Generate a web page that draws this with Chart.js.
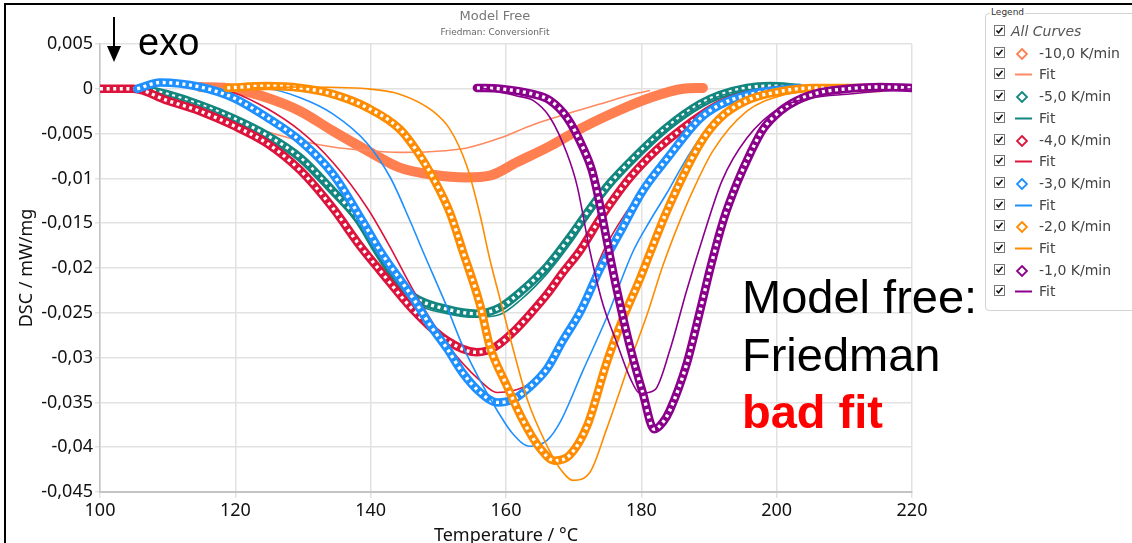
<!DOCTYPE html>
<html>
<head>
<meta charset="utf-8">
<script src="https://cdn.jsdelivr.net/npm/chart.js@4.4.1/dist/chart.umd.min.js"></script>
<style>
  body { margin: 0; background: #fff; }
  #wrap { position: relative; width: 1132px; height: 543px; overflow: hidden; background: #fff; }
  #frame { position: absolute; left: 4px; top: 3px; width: 1200px; height: 700px;
           border-left: 2px solid #000; border-top: 2px solid #000; }
  .ttl { position: absolute; left: 395px; width: 200px; text-align: center; font-family: "DejaVu Sans"; }
  #legend { position: absolute; left: 985px; top: 13px; width: 170px; height: 296px;
            border: 1px solid #d2d2d2; border-radius: 4px; font-family: "DejaVu Sans"; }
  #legend .lt { position: absolute; left: 4px; top: -7px; background: #fff; font-size: 9px; color: #333; padding: 0 1px; }
  #legend .row { position: absolute; left: 0; height: 16px; width: 170px; }
  #legend .row span { position: absolute; top: 0; font-size: 14px; line-height: 16px; color: #444; white-space: nowrap; }
  .note { position: absolute; font-family: "Liberation Sans", Arial, sans-serif; color: #000; }
</style>
</head>
<body>
<div id="wrap">
  <canvas id="chart" width="1132" height="543"></canvas>
  <div id="frame"></div>
  <div class="ttl" style="top:8px;font-size:13px;color:#777">Model Free</div>
  <div class="ttl" style="top:27px;font-size:9px;color:#666">Friedman: ConversionFit</div>
  <svg style="position:absolute;left:105px;top:17px" width="18" height="48">
    <line x1="9" y1="0" x2="9" y2="32" stroke="#000" stroke-width="2"/>
    <polygon points="2,29 16,29 9,45" fill="#000"/>
  </svg>
  <div class="note" style="left:138px;top:23px;font-size:38px;line-height:38px">exo</div>
  <div class="note" style="left:742px;top:268px;font-size:47px;line-height:57.5px">Model free:<br>Friedman<br><b style="color:#ff0000">bad fit</b></div>
  <div id="legend"><span class="lt">Legend</span></div>
</div>
<script>
// temperatures (°C) and DSC values (mW/mg)
const tD10 = [114.8,119.7,124.7,129.6,134.4,139.5,144.3,149.2,154.2,157.6,161.6,166.5,171.4,176.4,181.3,186.2,189.1];
const vD10 = [0.0002,0,-0.001,-0.0025,-0.0047,-0.0069,-0.0088,-0.0096,-0.0099,-0.0097,-0.0082,-0.0064,-0.0043,-0.0025,-0.001,0,0.0001];
const tF10 = [114.8,119.7,124.7,129.6,134.4,139.5,144.3,149.2,154.2,159.1,164.0,169.0,173.9,178.8,181.3];
const vF10 = [-0.0027,-0.0037,-0.0048,-0.0058,-0.0065,-0.0069,-0.0071,-0.0070,-0.0066,-0.0055,-0.0040,-0.0028,-0.0017,-0.0006,-0.0002];

const tD5 = [105.9,109.9,114.8,119.7,124.7,129.6,134.4,138.0,141.4,143.9,146.3,151.3,155.7,159.1,162.1,166.1,169.5,172.5,175.4,178.8,183.8,188.7,191.6,195.6,199.0,203.4];
const vD5 = [0.0001,-0.0006,-0.0018,-0.0033,-0.0052,-0.0077,-0.0114,-0.0144,-0.0186,-0.0214,-0.0232,-0.0246,-0.0251,-0.0244,-0.0227,-0.0198,-0.0165,-0.0133,-0.0105,-0.0078,-0.0043,-0.0017,-0.0007,0.0001,0.0003,0.0001];
const tF5 = [105.9,114.8,119.7,124.7,129.6,134.4,138.0,141.4,146.3,151.3,155.7,159.1,162.1,166.1,169.5,172.5,175.4,178.8,183.8,188.7,191.6,195.6,200.5,203.4];
const vF5 = [0.0001,-0.0019,-0.0035,-0.0055,-0.0080,-0.0117,-0.0150,-0.0190,-0.0237,-0.0251,-0.0255,-0.0252,-0.0236,-0.0206,-0.0173,-0.0140,-0.0110,-0.0081,-0.0045,-0.0018,-0.0008,-0.0001,0,0];

const tD4 = [100,104.9,109.9,114.8,119.7,124.7,129.6,134.4,138.4,141.4,146.3,151.3,155.7,158.4,161.0,163.5,166.1,168.4,170.9,173.9,177.9,181.3,183.8,188.7,191.6,196.1,200.5];
const vD4 = [0,0,-0.0013,-0.0025,-0.0041,-0.0061,-0.0091,-0.0133,-0.0175,-0.0203,-0.0247,-0.0281,-0.0294,-0.0288,-0.0272,-0.0252,-0.0229,-0.0205,-0.0181,-0.0145,-0.0103,-0.0075,-0.0058,-0.0030,-0.0017,-0.0006,-0.0001];
const tF4 = [117.3,119.7,124.7,129.6,134.4,139.5,142.9,146.3,151.3,156.2,158.7,161.0,163.5,166.1,168.4,170.9,174.6,180.2,183.8,188.7,195.6,200.5];
const vF4 = [0,-0.0004,-0.0022,-0.0047,-0.0082,-0.0133,-0.0177,-0.0225,-0.0285,-0.0326,-0.0339,-0.0337,-0.0329,-0.0309,-0.0278,-0.0245,-0.0178,-0.0111,-0.0075,-0.0031,-0.0008,-0.0001];

const tD3 = [105.5,108.9,114.8,119.7,124.7,129.6,134.4,138.9,141.4,146.3,148.8,151.3,153.6,156.2,158.7,161.0,163.5,166.1,168.4,170.9,173.9,176.8,180.2,183.8,188.7,191.6,195.6,200.5,203.4];
const vD3 = [0,0.0007,0.0002,-0.0010,-0.0032,-0.0058,-0.0095,-0.0149,-0.0181,-0.0234,-0.0264,-0.0290,-0.0317,-0.0339,-0.0350,-0.0347,-0.0333,-0.0312,-0.0281,-0.0250,-0.0201,-0.0161,-0.0114,-0.0078,-0.0033,-0.0018,-0.0007,-0.0001,0.0001];
const tF3 = [118.8,124.7,129.6,134.4,139.5,142.9,145.8,147.7,151.3,153.6,156.2,158.7,161.0,163.5,166.1,168.0,171.4,174.9,178.8,181.3,183.8,186.2,188.7,191.6,195.6,200.5,205.4];
const vF3 = [0.0001,0,-0.0010,-0.0028,-0.0061,-0.0099,-0.0147,-0.0181,-0.0244,-0.0287,-0.0326,-0.0359,-0.0385,-0.0399,-0.0392,-0.0372,-0.0314,-0.0255,-0.0181,-0.0147,-0.0116,-0.0084,-0.0055,-0.0030,-0.0012,-0.0004,-0.0001];

const tD2 = [118.8,124.7,129.6,134.4,139.5,144.3,146.8,149.2,151.7,153.6,156.2,157.6,160.1,162.5,165.0,167.2,169.4,172.0,174.9,177.3,179.8,181.3,183.8,188.7,191.6,195.6,200.5,205.4,215.3];
const vD2 = [0.0001,0.0003,0.0001,-0.0006,-0.0021,-0.0045,-0.0069,-0.0099,-0.0138,-0.0181,-0.0242,-0.0287,-0.0331,-0.0370,-0.0401,-0.0415,-0.0409,-0.0376,-0.0305,-0.0256,-0.0212,-0.0183,-0.0136,-0.0061,-0.0033,-0.0013,-0.0003,0.0001,0.0001];
const tF2 = [122.2,129.6,139.5,144.3,149.2,151.7,154.2,156.2,157.6,159.1,161.0,163.2,166.1,168.0,169.9,172.4,174.9,178.3,180.8,183.2,185.4,187.6,190.6,195.6,200.5,210.4];
const vF2 = [0.0001,0.0002,0,-0.0006,-0.0025,-0.0045,-0.0086,-0.0142,-0.0190,-0.0234,-0.0289,-0.0348,-0.0399,-0.0424,-0.0437,-0.0428,-0.0379,-0.0305,-0.0253,-0.0197,-0.0153,-0.0114,-0.0069,-0.0025,-0.0008,0];

const tD1 = [155.7,159.1,164.0,166.5,169.0,171.4,172.7,173.9,174.9,176.4,178.3,180.2,181.9,183.2,184.2,186.7,188.7,190.4,192.2,194.1,196.1,198.0,200.5,203.0,206.4,210.4,215.3,220.0];
const vD1 = [0.0001,0,-0.0006,-0.0013,-0.0032,-0.0066,-0.0091,-0.0130,-0.0169,-0.0225,-0.0287,-0.0339,-0.0380,-0.0372,-0.0359,-0.0307,-0.0247,-0.0194,-0.0145,-0.0106,-0.0072,-0.0045,-0.0025,-0.0013,-0.0004,0,0.0002,0.0001];
const tF1 = [156.2,161.6,164.0,166.5,169.0,170.5,172.4,174.3,176.4,178.3,179.8,182.0,184.2,186.7,189.1,191.9,195.6,200.5,205.4,210.4,220.0];
const vF1 = [0.0001,-0.0008,-0.0013,-0.0032,-0.0072,-0.0108,-0.0181,-0.0240,-0.0284,-0.0322,-0.0340,-0.0336,-0.0292,-0.0225,-0.0166,-0.0103,-0.0055,-0.0021,-0.0010,-0.0006,0];

const rateLabels = ['-10,0 K/min', '-5,0 K/min', '-4,0 K/min', '-3,0 K/min', '-2,0 K/min', '-1,0 K/min'];
const rateColors = ['#ff7f50', '#13877f', '#dc143c', '#1e90ff', '#ff8c00', '#8b008b'];
const fitColors  = ['#ff8a62', '#13877f', '#dc143c', '#1e90ff', '#ff8c00', '#8b008b'];
const dataT = [tD10, tD5, tD4, tD3, tD2, tD1];
const dataV = [vD10, vD5, vD4, vD3, vD2, vD1];
const fitT  = [tF10, tF5, tF4, tF3, tF2, tF1];
const fitV  = [vF10, vF5, vF4, vF3, vF2, vF1];

const xTicks = [100, 120, 140, 160, 180, 200, 220];
const yTicks = [-0.045, -0.04, -0.035, -0.03, -0.025, -0.02, -0.015, -0.01, -0.005, 0, 0.005];
const yTickLabels = ['-0,045', '-0,04', '-0,035', '-0,03', '-0,025', '-0,02', '-0,015', '-0,01', '-0,005', '0', '0,005'];

function pts(ts, vs) { return ts.map((t, i) => ({ x: t, y: vs[i] })); }

const datasets = [];
let layer = 0;
function add(ds) { ds.order = 1000 - layer++; ds.pointRadius = 0; ds.fill = false;
  ds.cubicInterpolationMode = 'monotone'; datasets.push(ds); }

// measured curves look like chains of small open diamonds: a thick line with white dots on top
rateLabels.forEach((lab, k) => {
  const d = pts(dataT[k], dataV[k]);
  if (k === 0) {
    add({ label: lab, data: d, borderColor: rateColors[k], borderWidth: 10, borderCapStyle: 'round' });
  } else {
    add({ label: lab, data: d, borderColor: rateColors[k], borderWidth: 8.5, borderCapStyle: 'round' });
    add({ label: lab + ' ', data: d, borderColor: '#ffffff', borderWidth: 3.4, borderDash: [3, 3.6] });
  }
  add({ label: 'Fit', data: pts(fitT[k], fitV[k]), borderColor: fitColors[k], borderWidth: 1.6 });
});

const tickFont = { family: 'Noto Sans', size: 18 };

new Chart(document.getElementById('chart'), {
  type: 'line',
  data: { datasets },
  options: {
    responsive: false,
    animation: false,
    layout: { padding: { left: 0, right: 220, top: 44, bottom: 0 } },
    plugins: { legend: { display: false }, tooltip: { enabled: false } },
    scales: {
      x: {
        type: 'linear', min: 100, max: 220,
        afterBuildTicks: s => { s.ticks = xTicks.map(v => ({ value: v })); },
        afterFit: s => { s.height = 51; },
        ticks: { font: tickFont, color: '#111', padding: 2, maxRotation: 0, callback: v => String(v) },
        grid: { color: '#e2e2e2', lineWidth: 1.5, tickLength: 6 },
        border: { color: '#c4c4c4', width: 2 },
        title: { display: true, text: 'Temperature / °C', color: '#111',
                 font: { family: 'Noto Sans', size: 18, lineHeight: 1 }, padding: { top: 0, bottom: -2 } }
      },
      y: {
        type: 'linear', min: -0.045, max: 0.005,
        afterBuildTicks: s => { s.ticks = yTicks.map(v => ({ value: v })); },
        afterFit: s => { s.width = 100; },
        ticks: { font: tickFont, color: '#111', padding: 2, callback: (v, i) => yTickLabels[i] },
        grid: { color: '#e2e2e2', lineWidth: 1.5, tickLength: 5 },
        border: { color: '#c4c4c4', width: 1.5 },
        title: { display: true, text: 'DSC / mW/mg', color: '#111',
                 font: { family: 'Noto Sans', size: 18 }, padding: { top: 16, bottom: 0 } }
      }
    }
  }
});

// legend panel
const legend = document.getElementById('legend');
const box = '<svg style="position:absolute;left:8px;top:2px" width="11" height="11"><rect x="0.5" y="0.5" width="10" height="10" fill="#fff" stroke="#777"/><path d="M2.5 5.5 L4.5 7.8 L8.5 2.8" fill="none" stroke="#111" stroke-width="1.6"/></svg>';
function row(i, inner) {
  const r = document.createElement('div');
  r.className = 'row';
  r.style.top = (9 + i * 21.7) + 'px';
  r.innerHTML = box + inner;
  legend.appendChild(r);
}
row(0, '<span style="left:25px;font-style:italic;color:#555">All Curves</span>');
rateLabels.forEach((lab, k) => {
  row(1 + 2 * k, '<svg style="position:absolute;left:30px;top:3px" width="12" height="12"><polygon points="6,1 11,6 6,11 1,6" fill="#fff" stroke="' + rateColors[k] + '" stroke-width="1.8"/></svg><span style="left:53px">' + lab + '</span>');
  row(2 + 2 * k, '<svg style="position:absolute;left:29px;top:7px" width="18" height="3"><line x1="0" y1="1.5" x2="17" y2="1.5" stroke="' + fitColors[k] + '" stroke-width="2"/></svg><span style="left:53px">Fit</span>');
});
</script>
</body>
</html>
